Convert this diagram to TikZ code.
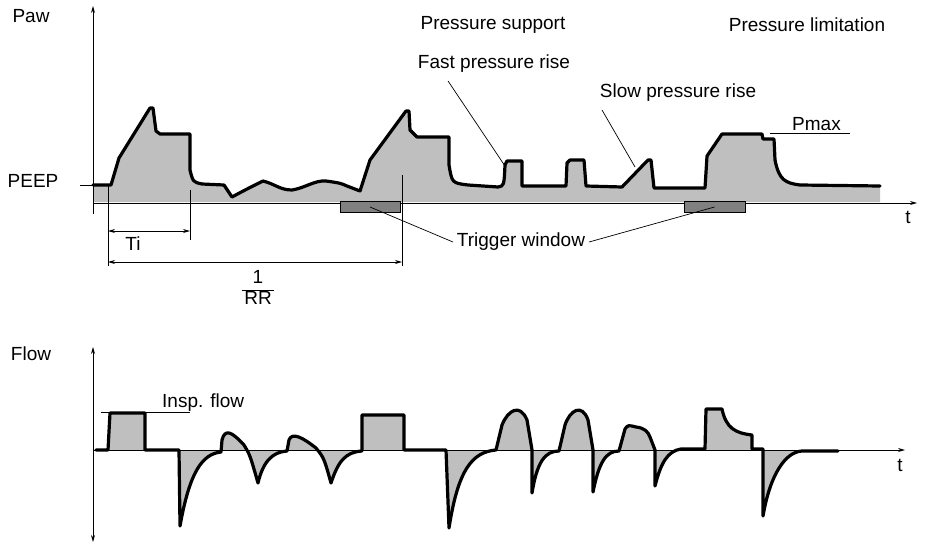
\documentclass[tikz,border=0pt]{standalone}
\usepackage{fontspec}
\setmainfont{Liberation Sans}
\usetikzlibrary{arrows.meta}
\begin{document}
\begin{tikzpicture}[x=1pt,y=-1pt,
  lbl/.style={inner sep=0pt,font=\fontsize{19}{22}\selectfont},
  ax/.style={line width=0.8pt,-{Stealth[length=7pt,width=4pt]}},
  thin/.style={line width=0.7pt},
  dim/.style={line width=0.7pt,{Stealth[length=7pt,width=4pt]}-{Stealth[length=7pt,width=4pt]}},
  curve/.style={line width=3.2pt,line join=round,line cap=round},
  shade/.style={fill=black!25}]
\useasboundingbox (0,0) rectangle (947,551);
% ---------- upper
\def\pawpath{(93,185) -- (111,185) -- (119,158) -- (150,108) -- (153,108) -- (156,131) -- (160,134) -- (190,134) -- (190,170) .. controls (193,182) .. (202,184) -- (224,185) -- (232,197) .. controls (245,190) .. (263,181) .. controls (275,184) and (280,190) .. (292,190) .. controls (305,188) and (315,180) .. (326,181) .. controls (340,183) .. (347,186) -- (360,191) -- (370,160) -- (406,111) -- (409,111) -- (410,130) -- (417,137) -- (449,137) -- (449,165) .. controls (452,183) .. (468,185) -- (498,187) .. controls (504,186) .. (505,165) -- (507,161) -- (522,161) -- (522,186) -- (566,186) -- (567,163) -- (570,160) -- (584,160) -- (586,186) -- (622,187) -- (648,160) -- (651,160) -- (654,188) -- (705,188) -- (707,156) -- (722,134) -- (762,134) -- (763,139) -- (774,139) -- (775,160) .. controls (779,180) and (785,183) .. (800,185) -- (880,186)}
\fill[shade] (93,202) -- \pawpath -- (880,202) -- cycle;
\draw[curve] \pawpath;
\draw[ax] (93,214) -- (93,6);
\draw[ax] (93,203) -- (917,203);
\draw[thin] (80,185) -- (93,185);
\node[lbl] (paw) at (31,16) {Paw};
\node[lbl] (peep) at (33,181) {PEEP};
\node[lbl] (t1) at (908,217) {t};
\node[draw,thin,fill=black!50,minimum width=60pt,minimum height=11pt,inner sep=0pt] (tw1) at (370,207) {};
\node[draw,thin,fill=black!50,minimum width=61pt,minimum height=11pt,inner sep=0pt] (tw2) at (714.5,207) {};
\node[lbl,outer sep=4pt] (tw) at (521,242) {Trigger window};
\draw[thin] (tw1.center) -- (tw.west);
\draw[thin] (tw.east) -- (tw2.center);
% Ti, 1/RR
\coordinate (a1) at (108,185); \coordinate (a2) at (108,266);
\coordinate (b1) at (190,190); \coordinate (b2) at (190,240);
\coordinate (c1) at (402,175); \coordinate (c2) at (402,266);
\draw[thin] (a1) -- (a2); \draw[thin] (b1) -- (b2); \draw[thin] (c1) -- (c2);
\draw[dim] (108,231) -- (190,231);
\draw[dim] (108,262) -- (402,262);
\node[lbl] (ti) at (133,244) {Ti};
\node[lbl] (rr) at (258,290) {\renewcommand\arraystretch{0.95}\setlength\tabcolsep{2pt}\begin{tabular}{c}1\\\hline RR\end{tabular}};
\node[lbl] (ps) at (493,25) {Pressure support};
\node[lbl] (pl) at (807,25) {Pressure limitation};
\node[lbl] (fpr) at (494,64) {Fast pressure rise};
\node[lbl] (spr) at (678,93) {Slow pressure rise};
\node[lbl,anchor=south west] (pmax) at (792,131) {Pmax};
\coordinate (fp) at (505,166); \coordinate (sp) at (635,167);
\draw[thin] (448,81) -- (fp);
\draw[thin] (602,110) -- (sp);
\draw[thin] (770,133) -- (850,133);
% ---------- lower
\def\flowpath{(96,450) -- (108,450) -- (110,413) -- (145,413) -- (145,450) -- (179,450) -- (180,526) .. controls (190,470) and (203,454) .. (221,452) -- (222,440) .. controls (225,428) and (232,432) .. (244,445) .. controls (250,455) .. (258,483) .. controls (263,462) and (272,452) .. (287,451) -- (289,440) .. controls (292,432) and (302,437) .. (316,448) .. controls (324,458) .. (331,483) .. controls (338,462) and (345,452) .. (362,451) -- (362,415) -- (404,415) -- (404,450) -- (446,450) -- (449,528) .. controls (458,470) and (472,452) .. (496,450) -- (502,425) .. controls (508,410) and (520,403) .. (527,420) -- (532,450) -- (532,493) .. controls (537,462) and (545,451) .. (559,451) -- (565,425) .. controls (570,410) and (582,403) .. (588,420) -- (593,450) -- (593,492) .. controls (599,462) and (606,451) .. (619,451) -- (625,429) .. controls (628,425) .. (636,427) .. controls (645,428) and (648,432) .. (650,437) -- (655,450) -- (655,486) .. controls (661,462) and (668,451) .. (681,449) -- (705,449) -- (706,409) -- (722,409) .. controls (726,428) and (735,433) .. (752,435) -- (752,449) -- (763,449) -- (763,516) .. controls (770,475) and (785,452) .. (802,451) -- (838,451)}
\fill[shade] \flowpath -- cycle;
\draw[curve] \flowpath;
\draw[line width=0.8pt,{Stealth[length=7pt,width=4pt]}-{Stealth[length=7pt,width=4pt]}] (93,347) -- (93,542);
\draw[ax] (93,450) -- (905,450);
\node[lbl] (flow) at (31,354) {Flow};
\node[lbl] (t2) at (900,465) {t};
\node[lbl,anchor=south west] (insp) at (162,412) {Insp. flow};
\draw[thin] (101,412) -- (190,412);
\end{tikzpicture}
\end{document}
